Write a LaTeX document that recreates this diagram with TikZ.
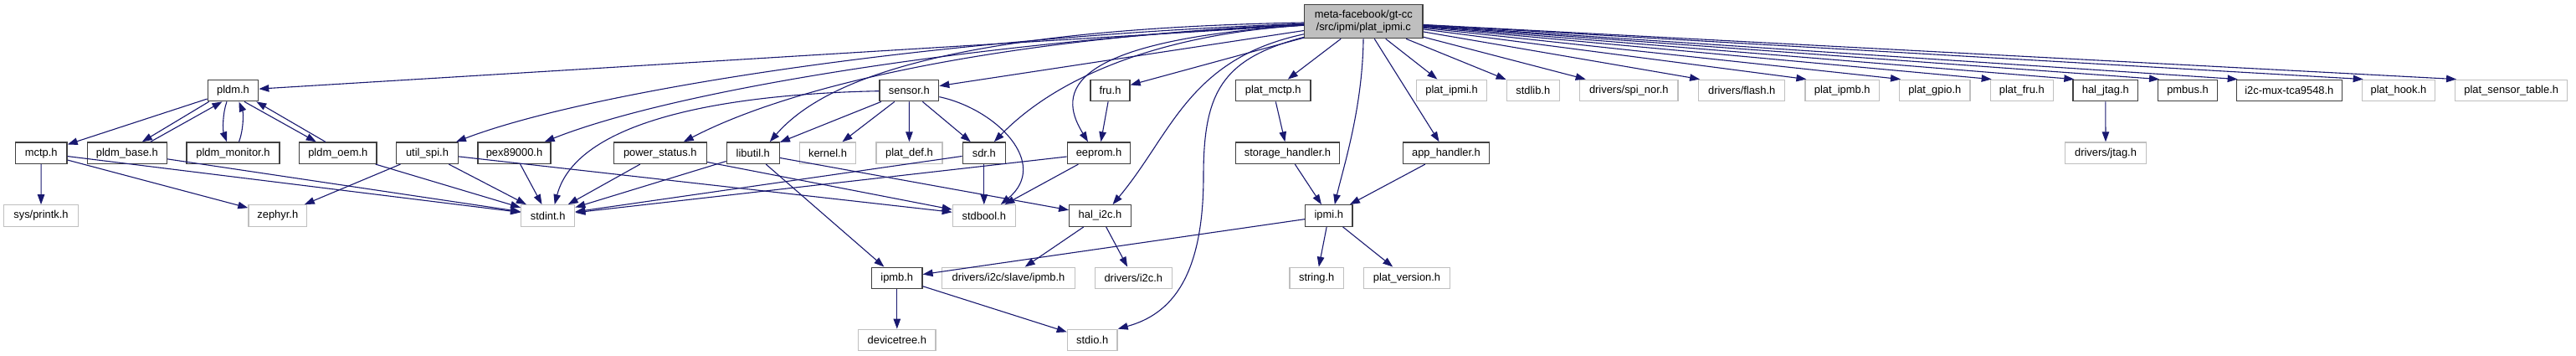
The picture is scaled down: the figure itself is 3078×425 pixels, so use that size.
\documentclass[tikz,border=0pt]{standalone}
\usepackage{fontspec}
\setmainfont{Liberation Sans}
\usetikzlibrary{arrows.meta}
\definecolor{edgec}{HTML}{191970}
\definecolor{grayb}{HTML}{BFBFBF}
\definecolor{blackb}{HTML}{404040}
\definecolor{rootfill}{HTML}{BFBFBF}
\tikzset{
  box/.style={draw=blackb, line width=1.3pt, fill=white, inner sep=0pt,
    minimum height=25.5pt, font=\fontsize{12.9}{15}\selectfont, text=black},
  sysbox/.style={box, draw=grayb},
  rootbox/.style={box, fill=rootfill, align=center, minimum height=40pt},
  dep/.style={draw=edgec, line width=1.1pt, -{Triangle[length=12pt,width=8.5pt]}}
}
\begin{document}
\begin{tikzpicture}[x=1pt,y=-1pt]
\useasboundingbox (0,0) rectangle (3078,425);
\fill[white] (0,0) rectangle (3078,425);
% root
\node[rootbox, minimum width=141.3pt] (root) at (1629.3,25.7) {meta-facebook/gt-cc\\/src/ipmi/plat\_ipmi.c};
% row 1
\node[box, minimum width=60.4pt] (pldm) at (278.5,108) {pldm.h};
\node[box, minimum width=70.7pt] (sensor) at (1086.3,108) {sensor.h};
\node[box, minimum width=47pt] (fru) at (1326.5,108) {fru.h};
\node[box, minimum width=89.7pt] (platmctp) at (1521.2,108) {plat\_mctp.h};
\node[sysbox, minimum width=84.4pt] (platipmi) at (1734.5,108) {plat\_ipmi.h};
\node[sysbox, minimum width=63pt] (stdlib) at (1831.8,108) {stdlib.h};
\node[sysbox, minimum width=117.3pt] (spinor) at (1946.3,108) {drivers/spi\_nor.h};
\node[sysbox, minimum width=103pt] (flash) at (2081.2,108) {drivers/flash.h};
\node[sysbox, minimum width=88.3pt] (platipmb) at (2201.2,108) {plat\_ipmb.h};
\node[sysbox, minimum width=84.3pt] (platgpio) at (2311.8,108) {plat\_gpio.h};
\node[sysbox, minimum width=75pt] (platfru) at (2415.8,108) {plat\_fru.h};
\node[box, minimum width=77.7pt] (haljtag) at (2515.8,108) {hal\_jtag.h};
\node[box, minimum width=70.6pt] (pmbus) at (2614,108) {pmbus.h};
\node[box, minimum width=126pt] (i2cmux) at (2735.3,108) {i2c-mux-tca9548.h};
\node[sysbox, minimum width=87.4pt] (plathook) at (2866,108) {plat\_hook.h};
\node[sysbox, minimum width=134pt] (platsensor) at (3000.7,108) {plat\_sensor\_table.h};
% row 2
\node[box, minimum width=61.7pt] (mctp) at (49.2,182.7) {mctp.h};
\node[box, minimum width=95pt] (pldmbase) at (151.8,182.7) {pldm\_base.h};
\node[box, minimum width=111pt] (pldmmon) at (278.5,182.7) {pldm\_monitor.h};
\node[box, minimum width=92.3pt] (pldmoem) at (403.8,182.7) {pldm\_oem.h};
\node[box, minimum width=73.6pt] (utilspi) at (510.5,182.7) {util\_spi.h};
\node[box, minimum width=87pt] (pex) at (614.5,182.7) {pex89000.h};
\node[box, minimum width=111pt] (powerstatus) at (788.8,182.7) {power\_status.h};
\node[box, minimum width=63pt] (libutil) at (899.8,182.7) {libutil.h};
\node[sysbox, minimum width=66.6pt] (kernel) at (989,182.7) {kernel.h};
\node[sysbox, minimum width=79pt] (platdef) at (1086.5,182.7) {plat\_def.h};
\node[box, minimum width=51pt] (sdr) at (1175.8,182.7) {sdr.h};
\node[box, minimum width=75.4pt] (eeprom) at (1313,182.7) {eeprom.h};
\node[box, minimum width=124.4pt] (storage) at (1538.5,182.7) {storage\_handler.h};
\node[box, minimum width=102.6pt] (apphandler) at (1728,182.7) {app\_handler.h};
\node[sysbox, minimum width=96.6pt] (drvjtag) at (2516,182.7) {drivers/jtag.h};
% row 3
\node[sysbox, minimum width=88.6pt] (printk) at (49,257.5) {sys/printk.h};
\node[sysbox, minimum width=69.7pt] (zephyr) at (331.8,257.5) {zephyr.h};
\node[sysbox, minimum width=64pt] (stdint) at (654.7,257.5) {stdint.h};
\node[sysbox, minimum width=75pt] (stdbool) at (1175.8,257.5) {stdbool.h};
\node[box, minimum width=73.6pt] (hali2c) at (1314.5,257.5) {hal\_i2c.h};
\node[box, minimum width=56.3pt] (ipmi) at (1587.8,257.5) {ipmi.h};
% row 4
\node[box, minimum width=60.3pt] (ipmb) at (1071.8,332) {ipmb.h};
\node[sysbox, minimum width=158.6pt] (slaveipmb) at (1205,332) {drivers/i2c/slave/ipmb.h};
\node[sysbox, minimum width=92pt] (drvi2c) at (1354.3,332) {drivers/i2c.h};
\node[sysbox, minimum width=64.3pt] (stringh) at (1573.2,332) {string.h};
\node[sysbox, minimum width=103.4pt] (platversion) at (1681,332) {plat\_version.h};
% row 5
\node[sysbox, minimum width=92.3pt] (devicetree) at (1071.8,406) {devicetree.h};
\node[sysbox, minimum width=59.7pt] (stdio) at (1305.2,406) {stdio.h};
\coordinate (sbend) at (1438,210);

% root edges (straight)
\foreach \t in {pldm,sensor,fru,platmctp,platipmi,stdlib,spinor,apphandler}
  \draw[dep] (root) -- (\t);
\foreach \t in {flash,platipmb,platgpio,platfru,haljtag,pmbus,i2cmux,plathook,platsensor}
  \draw[dep] (root) -- ([xshift=2pt]\t.north west);
% root edges (curved)
\draw[dep] (root) .. controls (1100,45) and (700,110) .. ([xshift=-3pt]utilspi.north east);
\draw[dep] (root) .. controls (1150,50) and (800,110) .. ([xshift=-8pt]pex.north east);
\draw[dep] (root) .. controls (1200,45) and (950,100) .. ([xshift=28pt]powerstatus.north);
\draw[dep] (root) .. controls (1120,35) and (980,100) .. ([xshift=20pt]libutil.north);
\draw[dep] (root) .. controls (1400,40) and (1270,85) .. ([xshift=12pt]sdr.north);
\draw[dep] (root) .. controls (1250,50) and (1270,120) .. ([xshift=-13pt]eeprom.north);
\draw[dep] (root) .. controls (1420,70) and (1400,160) .. ([xshift=15pt]hali2c.north);
\draw[dep] (root) .. controls (1460,70) and (1438,110) .. (sbend) .. controls (1438,330) and (1400,375) .. (stdio.north east);
\draw[dep] (root) .. controls (1628,130) and (1605,200) .. ([xshift=7pt]ipmi.north);

% pldm cluster
\draw[dep] (pldm) -- (mctp);
\draw[dep] ([xshift=2pt]pldm.south west) -- ([xshift=18pt]pldmbase.north);
\draw[dep] ([xshift=28pt]pldmbase.north) -- ([xshift=-13pt]pldm.south);
\draw[dep] ([xshift=-7.5pt]pldm.south) .. controls (266,135) and (266,155) .. ([xshift=-7.5pt]pldmmon.north);
\draw[dep] ([xshift=7pt]pldmmon.north) .. controls (291,155) and (291,135) .. ([xshift=7pt]pldm.south);
\draw[dep] ([xshift=13.5pt]pldm.south) -- ([xshift=-26pt]pldmoem.north);
\draw[dep] ([xshift=-15pt]pldmoem.north) -- ([xshift=-3pt]pldm.south east);
\draw[dep] (mctp) -- (printk);
\draw[dep] (mctp) -- (zephyr);
\draw[dep] (mctp) -- (stdint);
\draw[dep] (pldmbase) -- (stdint);
\draw[dep] (pldmoem) -- (stdint);
\draw[dep] (utilspi) -- (zephyr);
\draw[dep] (utilspi) -- (stdint);
\draw[dep] (utilspi) -- (stdbool);
\draw[dep] (pex) -- (stdint);
\draw[dep] (powerstatus) -- (stdint);
\draw[dep] (powerstatus) -- (stdbool);
\draw[dep] (libutil) -- (stdint);
\draw[dep] (libutil) -- (hali2c);
\draw[dep] (libutil) -- (ipmb);
% sensor
\draw[dep] (sensor) .. controls (880,112) and (690,140) .. ([xshift=8pt]stdint.north);
\draw[dep] (sensor) -- (libutil);
\draw[dep] (sensor) -- (kernel);
\draw[dep] (sensor) -- (platdef);
\draw[dep] (sensor) -- (sdr);
\draw[dep] (sensor) .. controls (1190,130) and (1255,195) .. ([xshift=20pt]stdbool.north);
\draw[dep] (sdr) -- (stdbool);
\draw[dep] (sdr) -- (stdint);
\draw[dep] (eeprom) -- (stdint);
\draw[dep] (eeprom) -- (stdbool);
\draw[dep] (fru) -- (eeprom);
\draw[dep] (hali2c) -- (slaveipmb);
\draw[dep] (hali2c) -- (drvi2c);
\draw[dep] (ipmb) -- (devicetree);
\draw[dep] (ipmb) -- (stdio);
\draw[dep] (ipmi) -- (ipmb);
\draw[dep] (ipmi) -- (stringh);
\draw[dep] (ipmi) -- (platversion);
\draw[dep] (storage) -- (ipmi);
\draw[dep] (apphandler) -- (ipmi);
\draw[dep] (platmctp) -- (storage);
\draw[dep] (haljtag) -- (drvjtag);
\end{tikzpicture}
\end{document}
